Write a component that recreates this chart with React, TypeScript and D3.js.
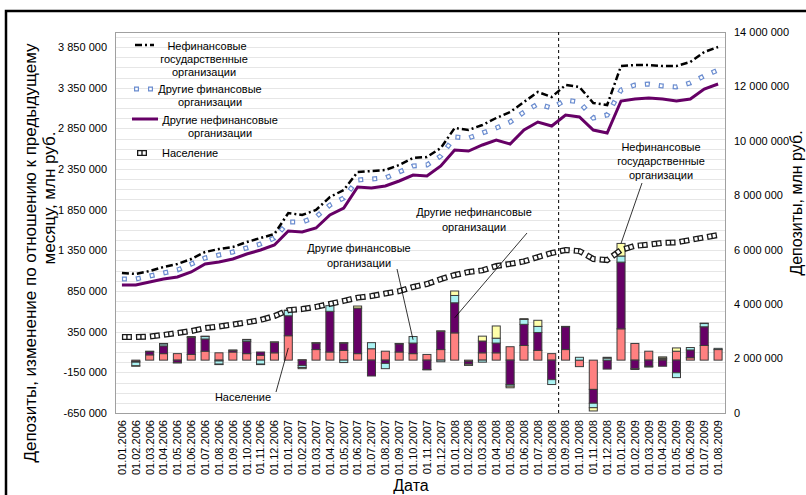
import React from 'react';
import * as d3 from 'd3';

const dates = [
  '01.01.2006','01.02.2006','01.03.2006','01.04.2006','01.05.2006','01.06.2006','01.07.2006','01.08.2006','01.09.2006','01.10.2006','01.11.2006','01.12.2006',
  '01.01.2007','01.02.2007','01.03.2007','01.04.2007','01.05.2007','01.06.2007','01.07.2007','01.08.2007','01.09.2007','01.10.2007','01.11.2007','01.12.2007',
  '01.01.2008','01.02.2008','01.03.2008','01.04.2008','01.05.2008','01.06.2008','01.07.2008','01.08.2008','01.09.2008','01.10.2008','01.11.2008','01.12.2008',
  '01.01.2009','01.02.2009','01.03.2009','01.04.2009','01.05.2009','01.06.2009','01.07.2009','01.08.2009'
];

// monthly change (left axis), mln rub
const popChange = [0,-15000,65000,80000,80000,70000,110000,90000,100000,80000,60000,90000,
  300000,5000,130000,100000,120000,80000,140000,110000,100000,80000,70000,130000,
  335000,-15000,90000,90000,165000,180000,120000,80000,130000,-80000,-360000,0,
  385000,205000,110000,15000,110000,30000,180000,130000];
const otherNonfinChange = [0,-10000,40000,95000,-30000,210000,150000,-10000,20000,150000,40000,130000,
  245000,-65000,80000,500000,90000,560000,-195000,-40000,100000,130000,-115000,225000,
  370000,-35000,145000,120000,-300000,260000,220000,-240000,280000,0,-170000,-110000,
  820000,-105000,-75000,-75000,-155000,95000,230000,0];
const otherFinChange = [0,-45000,0,25000,0,0,30000,-40000,0,20000,-50000,0,
  65000,-25000,0,70000,-30000,0,75000,-65000,0,80000,0,-20000,
  90000,0,-25000,60000,-20000,60000,75000,-60000,0,35000,-55000,25000,
  75000,0,-10000,10000,-60000,30000,40000,15000];
const stateChange = [0,-5000,5000,5000,-5000,10000,5000,-5000,5000,5000,-5000,5000,
  5000,-15000,5000,0,5000,25000,0,0,5000,0,-5000,5000,
  55000,-15000,60000,150000,-20000,10000,75000,0,5000,0,-40000,10000,
  155000,-10000,0,15000,40000,0,5000,0];

// levels (right axis), mln rub, as plotted (stacked lines)
const popLevel = [2790000,2790000,2810000,2870000,2940000,3010000,3120000,3180000,3250000,3330000,3420000,3560000,
  3780000,3820000,3900000,4010000,4120000,4240000,4300000,4390000,4480000,4630000,4740000,4920000,
  5070000,5180000,5240000,5400000,5480000,5570000,5730000,5880000,5990000,5950000,5660000,5620000,
  5990000,6140000,6190000,6250000,6270000,6360000,6450000,6540000];
const otherNonfinLevel = [4703000,4703000,4814000,4924000,4997000,5181000,5475000,5548000,5659000,5842000,5989000,6173000,
  6688000,6651000,6798000,7276000,7533000,8304000,8268000,8341000,8525000,8745000,8709000,9076000,
  9664000,9627000,9848000,10031000,9884000,10399000,10693000,10546000,10950000,10877000,10399000,10289000,
  11464000,11538000,11575000,11538000,11464000,11538000,11905000,12089000];
const otherFinLevel = [4924000,4924000,5034000,5144000,5255000,5475000,5695000,5806000,5916000,6063000,6210000,6430000,
  7018000,7018000,7202000,7643000,7900000,8562000,8598000,8635000,8855000,9076000,9113000,9443000,
  10142000,10105000,10289000,10472000,10693000,11060000,11354000,11207000,11501000,11428000,10840000,10950000,
  11869000,12052000,12089000,12016000,11979000,12126000,12383000,12604000];
const stateLevel = [5144000,5108000,5218000,5365000,5475000,5659000,5916000,6026000,6100000,6283000,6430000,6577000,
  7349000,7276000,7459000,7937000,8194000,8856000,8892000,8929000,9113000,9370000,9407000,9737000,
  10472000,10399000,10583000,10840000,11060000,11428000,11795000,11611000,12052000,11979000,11391000,11317000,
  12751000,12787000,12787000,12751000,12751000,12898000,13265000,13449000];

const leftTicks = [-650000,-150000,350000,850000,1350000,1850000,2350000,2850000,3350000,3850000];
const rightTicks = [0,2000000,4000000,6000000,8000000,10000000,12000000,14000000];
const crisisDate = '01.09.2008';

const FONT = '"Liberation Sans", Arial, Helvetica, sans-serif';
const W = 806, H = 495;
const PL = 115, PR = 725, PT = 32, PB = 413;

const fmt = (v: number) => {
  const s = Math.abs(v).toString().replace(/\B(?=(\d{3})+(?!\d))/g, ' ');
  return (v < 0 ? '-' : '') + s;
};

const COL = {
  pop: '#ff8080', nonfin: '#660066', fin: '#aaf2f2', state: '#ffffaa',
  blue: '#6a8ccf', purple: '#660066'
};

export default function App() {
  const x = d3.scaleBand<string>().domain(dates).range([PL, PR]).paddingInner(0.42).paddingOuter(0.21);
  const yL = d3.scaleLinear().domain([-650000, 3850000]).range([PB, 47]);
  const yR = d3.scaleLinear().domain([0, 14000000]).range([PB, PT]);
  const cx = (d: string) => (x(d) as number) + x.bandwidth() / 2;

  const rows = dates.map((d, i) => ({
    date: d, pop: popChange[i], nonfin: otherNonfinChange[i], fin: otherFinChange[i], state: stateChange[i]
  }));
  const keys = ['pop', 'nonfin', 'fin', 'state'];
  const stacked = d3.stack<any>().keys(keys).offset(d3.stackOffsetDiverging)(rows);

  const grid: number[] = [];
  for (let v = -650000; v <= 4000000; v += 125000) grid.push(v);

  const lineGen = (vals: number[]) =>
    d3.line<number>().x((_, i) => cx(dates[i])).y(v => yR(v))(vals) as string;

  const segMid = (key: string, idx: number) => {
    const s = stacked.find(s => s.key === key)!;
    return yL((s[idx][0] + s[idx][1]) / 2);
  };
  const segTop = (key: string, idx: number) => {
    const s = stacked.find(s => s.key === key)!;
    return yL(Math.max(s[idx][0], s[idx][1]));
  };

  const textStyle = { fontFamily: FONT, fontSize: 11, fill: '#000' } as const;

  const PopLine = ({ d }: { d: string }) => (
    <g fill="none">
      <path d={d} stroke="#1a1a1a" strokeWidth={6} strokeDasharray="10 4" />
      <path d={d} stroke="#fff" strokeWidth={3.4} strokeDasharray="0 1.3 3 1.4 3 5.3" />
    </g>
  );
  const BlueLine = ({ d }: { d: string }) => (
    <g fill="none">
      <path d={d} stroke={COL.blue} strokeWidth={5} strokeDasharray="5 9" />
      <path d={d} stroke="#fff" strokeWidth={2.6} strokeDasharray="0 1.2 2.6 10.2" />
    </g>
  );

  const divX = (x(crisisDate) as number) - x.step() * 0.21;

  return (
    <svg width={W} height={H} style={{ position: 'absolute', left: 0, top: 0, background: '#fff' }}>
      <rect x={0} y={0} width={W} height={H} fill="#fff" />
      <rect x={6} y={11} width={W + 50} height={H + 50} fill="none" stroke="#000" strokeWidth={2.5} />

      {/* gridlines */}
      <g stroke="#e6e6e6" strokeWidth={1}>
        {grid.map(v => (
          <line key={v} x1={PL} x2={PR} y1={Math.round(yL(v)) + 0.5} y2={Math.round(yL(v)) + 0.5} />
        ))}
      </g>
      <rect x={PL + 0.5} y={PT + 0.5} width={PR - PL} height={PB - PT} fill="none" stroke="#a0a0a0" strokeWidth={1} />

      {/* crisis divider */}
      <line x1={divX} x2={divX} y1={PT} y2={PB} stroke="#000" strokeWidth={1} strokeDasharray="3 3" />

      {/* stacked bars */}
      <g>
        {stacked.map(s => (
          <g key={s.key} fill={(COL as any)[s.key]}>
            {s.map((p, i) => {
              if (p[0] === p[1]) return null;
              const y1 = yL(Math.max(p[0], p[1]));
              const y0 = yL(Math.min(p[0], p[1]));
              return <rect key={i} x={x(dates[i])} y={y1} width={x.bandwidth()} height={y0 - y1}
                stroke="#3c3c3c" strokeWidth={1} />;
            })}
          </g>
        ))}
      </g>

      {/* level lines */}
      <PopLine d={lineGen(popLevel)} />
      <path d={lineGen(otherNonfinLevel)} fill="none" stroke={COL.purple} strokeWidth={3} />
      <BlueLine d={lineGen(otherFinLevel)} />
      <path d={lineGen(stateLevel)} fill="none" stroke="#000" strokeWidth={2.5} strokeDasharray="7 3 2 3" />

      {/* left axis labels */}
      <g style={textStyle} textAnchor="end">
        {leftTicks.map(v => (
          <text key={v} x={107} y={yL(v)} dy="0.35em">{fmt(v)}</text>
        ))}
      </g>
      {/* right axis labels */}
      <g style={textStyle} textAnchor="start">
        {rightTicks.map(v => (
          <text key={v} x={734} y={yR(v)} dy="0.35em">{fmt(v)}</text>
        ))}
      </g>
      {/* x labels */}
      <g style={textStyle} textAnchor="end">
        {dates.map(d => (
          <text key={d} transform={`translate(${cx(d)},420) rotate(-90)`} dy="0.35em">{d}</text>
        ))}
      </g>

      {/* axis titles */}
      <text x={411} y={491} textAnchor="middle" style={{ fontFamily: FONT, fontSize: 16 }}>Дата</text>
      <text transform="translate(36,253) rotate(-90)" textAnchor="middle" style={{ fontFamily: FONT, fontSize: 17 }}>
        Депозиты, изменение по отношению к предыдущему
      </text>
      <text transform="translate(55,198) rotate(-90)" textAnchor="middle" style={{ fontFamily: FONT, fontSize: 17 }}>
        месяцу, млн руб.
      </text>
      <text transform="translate(802,203) rotate(-90)" textAnchor="middle" style={{ fontFamily: FONT, fontSize: 16 }}>
        Депозиты, млн руб.
      </text>

      {/* legend */}
      <g style={textStyle}>
        <line x1={135} x2={154} y1={45} y2={45} stroke="#000" strokeWidth={2.5} strokeDasharray="7 3 2 3" />
        <text x={207} y={50} textAnchor="middle">Нефинансовые</text>
        <text x={204} y={63} textAnchor="middle">государственные</text>
        <text x={204} y={76} textAnchor="middle">организации</text>

        <BlueLine d="M134,89L155,89" />
        <text x={210} y={93} textAnchor="middle">Другие финансовые</text>
        <text x={210} y={106} textAnchor="middle">организации</text>

        <line x1={132} x2={158} y1={119} y2={119} stroke={COL.purple} strokeWidth={3} />
        <text x={220} y={124} textAnchor="middle">Другие нефинансовые</text>
        <text x={220} y={137} textAnchor="middle">организации</text>

        <PopLine d="M137,153L151,153" />
        <text x={162} y={157}>Население</text>
      </g>

      {/* annotations */}
      <g style={textStyle} textAnchor="middle">
        <text x={243} y={401}>Население</text>
        <line x1={276} y1={392} x2={cx(dates[12])} y2={segMid('pop', 12)} stroke="#000" strokeWidth={0.8} />

        <text x={359} y={252}>Другие финансовые</text>
        <text x={359} y={267}>организации</text>
        <line x1={397} y1={269} x2={cx(dates[21])} y2={segMid('fin', 21)} stroke="#000" strokeWidth={0.8} />

        <text x={474} y={216}>Другие нефинансовые</text>
        <text x={474} y={231}>организации</text>
        <line x1={527} y1={233} x2={cx(dates[24])} y2={segMid('nonfin', 24)} stroke="#000" strokeWidth={0.8} />

        <text x={661} y={151}>Нефинансовые</text>
        <text x={661} y={165}>государственные</text>
        <text x={661} y={179}>организации</text>
        <line x1={642} y1={183} x2={cx(dates[36])} y2={segTop('state', 36)} stroke="#000" strokeWidth={0.8} />
      </g>
    </svg>
  );
}
